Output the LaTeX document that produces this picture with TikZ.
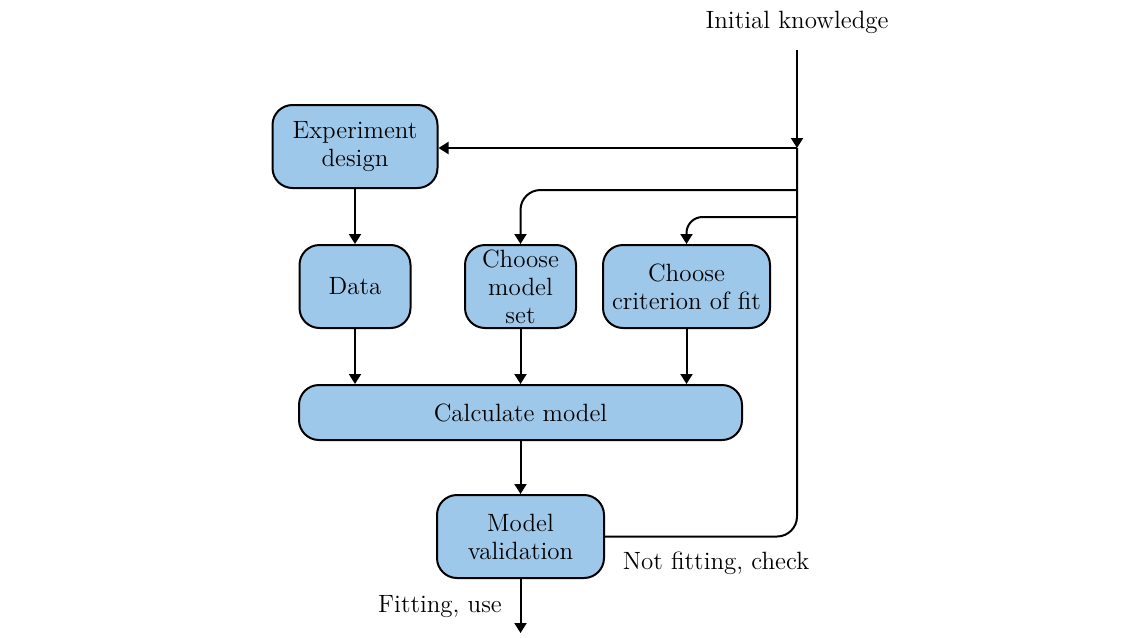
\documentclass[tikz,border=0pt]{standalone}
\usetikzlibrary{arrows.meta}

\definecolor{boxblue}{RGB}{158,200,234}

\tikzset{
  stage/.style={draw, line width=1pt, fill=boxblue, rounded corners=10pt,
    align=center, inner sep=2pt, font=\fontsize{12.5}{14}\selectfont},
  note/.style={font=\fontsize{12.5}{14}\selectfont},
  flow/.style={line width=1pt, -{Triangle[length=5pt,width=6pt]}},
}

\begin{document}
\begin{tikzpicture}[x=0.5pt,y=-0.5pt]
  \useasboundingbox (0,0) rectangle (1145,637);

  % --- Stages ---
  \node[stage, minimum width=82.5pt, minimum height=41.5pt] (design) at (355,146.5) {Experiment\\design};
  \node[stage, minimum width=55.5pt, minimum height=41.5pt] (data)   at (355,286.5) {Data};
  \node[stage, minimum width=55.5pt, minimum height=41.5pt] (model)  at (520.5,286.5) {Choose\\model\\set};
  \node[stage, minimum width=83.5pt, minimum height=41.5pt] (crit)   at (686.5,286.5) {Choose\\criterion of fit};
  \node[stage, minimum width=221.5pt, minimum height=27.5pt] (calc)  at (520.5,412.5) {Calculate model};
  \node[stage, minimum width=83.5pt, minimum height=41.5pt] (valid)  at (520.5,536.5) {Model\\validation};

  % --- Input line on the right ---
  \node[note] (know) at (797,22) {Initial knowledge};
  \coordinate (top)   at (797,50);
  \coordinate (split) at (797,148);
  \coordinate (tapA)  at (797,190);
  \coordinate (tapB)  at (797,217);
  \coordinate (out)   at (520.5,633);

  \draw[flow] (top) -- (split);
  \draw[flow] (split) -- (split -| design.east);
  \draw[flow, rounded corners=10pt] (tapA) -| (model.north);
  \draw[flow, rounded corners=8pt]  (tapB) -| (crit.north);

  % --- Main chain ---
  \draw[flow] (design) -- (data);
  \draw[flow] (data)  -- (data |- calc.north);
  \draw[flow] (model) -- (model |- calc.north);
  \draw[flow] (crit)  -- (crit |- calc.north);
  \draw[flow] (calc)  -- (valid);
  \draw[flow] (valid) -- (out);

  % --- Feedback back to the top ---
  \draw[line width=1pt, rounded corners=10pt] (valid.east) -| (split);

  % --- Labels ---
  \node[note] (fit)   at (440,607) {Fitting, use};
  \node[note] (nofit) at (716,563) {Not fitting, check};
\end{tikzpicture}
\end{document}
